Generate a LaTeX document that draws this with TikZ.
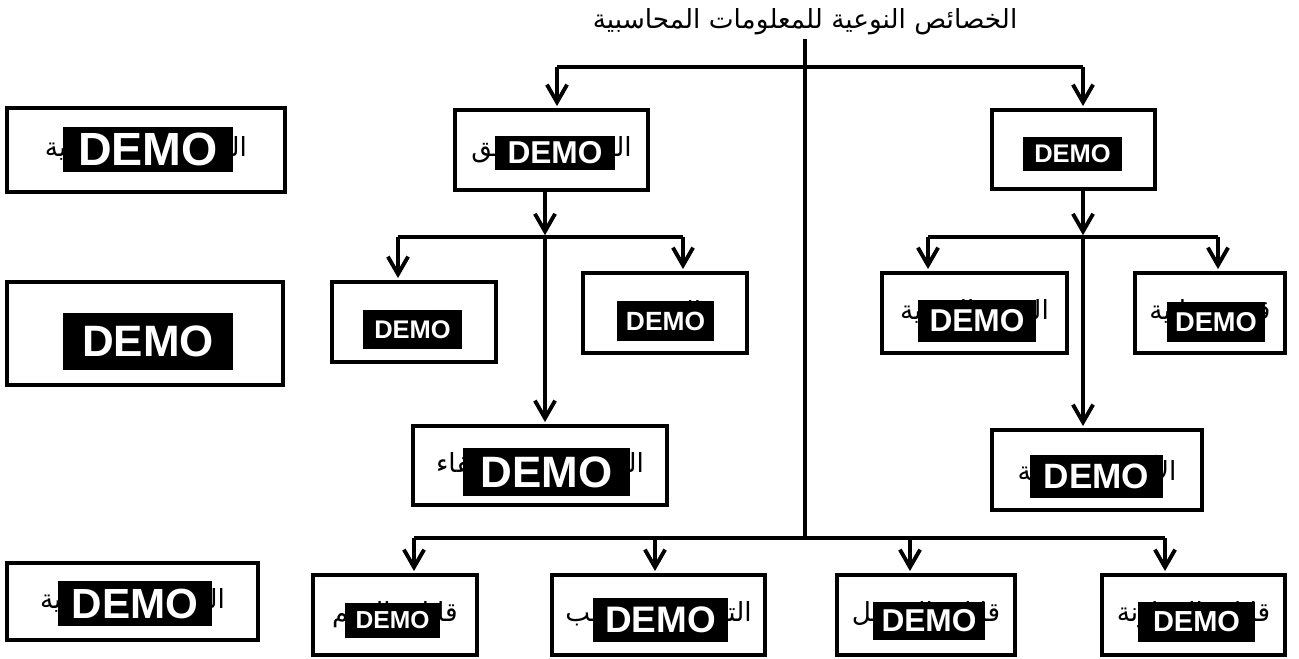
\documentclass[tikz,border=0pt]{standalone}
\usepackage{fontspec}
\setmainfont{DejaVu Sans}
\setsansfont{Liberation Sans}
\newfontfamily\arabicfont[Script=Arabic]{DejaVu Sans}
\TeXXeTstate=1
\usetikzlibrary{positioning, arrows.meta}
\newcommand{\artxt}[1]{{\arabicfont\beginR #1\endR}}

\begin{document}
\begin{tikzpicture}[x=0.02cm, y=-0.02cm,
    box/.style={draw, line width=2.5pt, fill=white, inner sep=0pt, font=\fontsize{15}{18}\selectfont},
    title/.style={font=\fontsize{15}{18}\selectfont, inner sep=2pt},
    demo/.style={fill=black, text=white, inner sep=0pt, font=\sffamily\bfseries\fontsize{#1}{#1}\selectfont},
    link/.style={line width=2.2pt},
    arr/.style={link, -{Straight Barb[length=10pt,width=11.5pt]}, shorten >=1pt}
  ]
  \useasboundingbox (0,0) rectangle (1299,659);

  % title
  \node[title] (T) at (805,22) {\artxt{الخصائص النوعية للمعلومات المحاسبية}};

  % left column
  \node[box, minimum width=5.56cm, minimum height=1.68cm] (L1) at (146,150) {\artxt{الخصائص الرئيسية}};
  \node[box, minimum width=5.52cm, minimum height=2.06cm] (L2) at (145,333.5) {\artxt{المكونات}};
  \node[box, minimum width=5.02cm, minimum height=1.54cm] (L3) at (132.5,601.5) {\artxt{الخصائص الثانوية}};

  % first level
  \node[box, minimum width=3.86cm, minimum height=1.6cm] (A) at (551.5,150) {\artxt{القابلية للتحقق}};
  \node[box, minimum width=3.26cm, minimum height=1.58cm] (B) at (1073.5,149.5) {\artxt{الملاءمة}};

  % second level
  \node[box, minimum width=3.28cm, minimum height=1.6cm] (A1) at (414,322) {\artxt{الحياد}};
  \node[box, minimum width=3.28cm, minimum height=1.6cm] (A2) at (665,313) {\artxt{الصدق}};
  \node[box, minimum width=5.08cm, minimum height=1.58cm] (A3) at (540,465.5) {\artxt{الحياد وعدم الإخفاء}};
  \node[box, minimum width=3.7cm, minimum height=1.6cm] (B1) at (974.5,313) {\artxt{القيمة التنبؤية}};
  \node[box, minimum width=3.0cm, minimum height=1.6cm] (B2) at (1210,313) {\artxt{قيمة رقابية}};
  \node[box, minimum width=4.2cm, minimum height=1.6cm] (B3) at (1097,470) {\artxt{الأهمية النسبية}};

  % bottom row
  \node[box, minimum width=3.28cm, minimum height=1.6cm] (C1) at (395,615) {\artxt{قابلية الفهم}};
  \node[box, minimum width=4.26cm, minimum height=1.6cm] (C2) at (658.5,615) {\artxt{التوقيت المناسب}};
  \node[box, minimum width=3.56cm, minimum height=1.6cm] (C3) at (926,615) {\artxt{قابلية التحويل}};
  \node[box, minimum width=3.66cm, minimum height=1.6cm] (C4) at (1193.5,615) {\artxt{قابلية المقارنة}};

  % DEMO stamps
  \node[demo=26.5, minimum width=3.4cm, minimum height=0.9cm] (L1d) at (148,149.5) {DEMO};
  \node[demo=25, minimum width=3.4cm, minimum height=1.14cm] (L2d) at (148,341.5) {DEMO};
  \node[demo=24, minimum width=3.08cm, minimum height=0.9cm] (L3d) at (135,603.5) {DEMO};
  \node[demo=18, minimum width=2.4cm, minimum height=0.68cm] (Ad) at (555,153) {DEMO};
  \node[demo=14.5, minimum width=1.98cm, minimum height=0.68cm] (Bd) at (1072.5,154) {DEMO};
  \node[demo=14.5, minimum width=1.98cm, minimum height=0.78cm] (A1d) at (412.5,329.5) {DEMO};
  \node[demo=15, minimum width=1.94cm, minimum height=0.8cm] (A2d) at (665.5,321) {DEMO};
  \node[demo=25, minimum width=3.34cm, minimum height=0.96cm] (A3d) at (546.5,472) {DEMO};
  \node[demo=18, minimum width=2.36cm, minimum height=0.84cm] (B1d) at (977,321) {DEMO};
  \node[demo=15.5, minimum width=1.96cm, minimum height=0.8cm] (B2d) at (1216,322) {DEMO};
  \node[demo=20, minimum width=2.66cm, minimum height=0.86cm] (B3d) at (1096.5,476.5) {DEMO};
  \node[demo=14, minimum width=1.9cm, minimum height=0.7cm] (C1d) at (392.5,620.5) {DEMO};
  \node[demo=21, minimum width=2.7cm, minimum height=0.88cm] (C2d) at (660.5,620) {DEMO};
  \node[demo=18, minimum width=2.24cm, minimum height=0.76cm] (C3d) at (929,621) {DEMO};
  \node[demo=16.5, minimum width=2.34cm, minimum height=0.8cm] (C4d) at (1196.5,622) {DEMO};

  % connectors
  \coordinate (tl) at (557,67);
  \coordinate (tr) at (1083,67);
  \coordinate (bc) at (805,538);
  \draw[link] (T.south) -- (bc);
  \draw[link] (tl) -- (tr);
  \draw[arr] (tl) -- (tl |- A.north);
  \draw[arr] (tr) -- (tr |- B.north);

  \coordinate (am) at (545,237);
  \coordinate (al) at (398,237);
  \coordinate (ar) at (683,237);
  \draw[arr] (A.south -| am) -- (am);
  \draw[link] (al) -- (ar);
  \draw[arr] (al) -- (al |- A1.north);
  \draw[arr] (ar) -- (ar |- A2.north);
  \draw[arr] (am) -- (am |- A3.north);

  \coordinate (bm) at (1083,237);
  \coordinate (bl) at (928,237);
  \coordinate (br) at (1218,237);
  \draw[arr] (B.south -| bm) -- (bm);
  \draw[link] (bl) -- (br);
  \draw[arr] (bl) -- (bl |- B1.north);
  \draw[arr] (br) -- (br |- B2.north);
  \draw[arr] (bm) -- (bm |- B3.north);

  \coordinate (c1) at (414,538);
  \coordinate (c2) at (655,538);
  \coordinate (c3) at (910,538);
  \coordinate (c4) at (1165,538);
  \draw[link] (c1) -- (c4);
  \draw[arr] (c1) -- (c1 |- C1.north);
  \draw[arr] (c2) -- (c2 |- C2.north);
  \draw[arr] (c3) -- (c3 |- C3.north);
  \draw[arr] (c4) -- (c4 |- C4.north);
\end{tikzpicture}
\end{document}
